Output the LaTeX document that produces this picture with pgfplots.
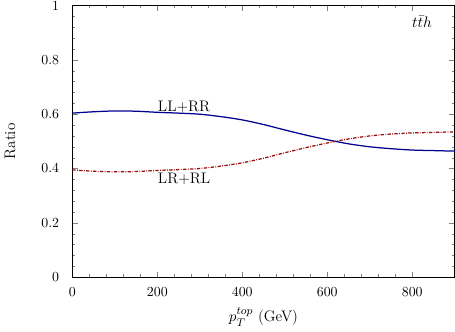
\documentclass[border=0pt]{standalone}
\usepackage{pgfplots}
\pgfplotsset{compat=1.18}
\definecolor{llrr}{RGB}{0,0,145}
\definecolor{lrrl}{RGB}{155,10,10}
\begin{document}
\begin{tikzpicture}
\begin{axis}[
  scale only axis,
  width=276pt, height=196pt,
  xmin=0, xmax=900, ymin=0, ymax=1,
  xtick={0,200,400,600,800},
  ytick={0,0.2,0.4,0.6,0.8,1},
  minor x tick num=4,
  minor y tick num=4,
  major tick length=4pt,
  minor tick length=2pt,
  tick align=inside,
  yticklabel style={xshift=-6pt, inner ysep=0.8pt},
  xticklabel style={yshift=-4pt},
  xlabel={$p_T^{top}$ (GeV)},
  ylabel={Ratio},
  label style={font=\fontsize{11}{13}\selectfont},
  every axis y label/.style={at={(axis description cs:-0.163,0.5)}, rotate=90, anchor=center, font=\fontsize{11}{13}\selectfont},
  every axis x label/.style={at={(axis description cs:0.5,0)}, anchor=north, yshift=-18.5pt, font=\fontsize{11}{13}\selectfont},
  every axis plot/.append style={line width=0.9pt},
]
\addplot[llrr, smooth] coordinates {
(0,0.604) (50,0.609) (100,0.612) (150,0.611) (200,0.607) (250,0.604)
(300,0.600) (350,0.591) (400,0.579) (450,0.562) (500,0.542) (550,0.523)
(600,0.506) (650,0.491) (700,0.480) (750,0.473) (800,0.468) (850,0.466) (900,0.464)
};
\addplot[lrrl, smooth, dash pattern=on 2.4pt off 1pt on 0.6pt off 1pt] coordinates {
(0,0.395) (50,0.390) (100,0.388) (150,0.389) (200,0.393) (250,0.396)
(300,0.400) (350,0.409) (400,0.421) (450,0.438) (500,0.458) (550,0.477)
(600,0.494) (650,0.509) (700,0.520) (750,0.527) (800,0.531) (850,0.533) (900,0.535)
};
\node[font=\fontsize{11}{13}\selectfont] at (axis cs:263,0.627) {LL+RR};
\node[font=\fontsize{11}{13}\selectfont] at (axis cs:263,0.361) {LR+RL};
\node[font=\fontsize{11}{13}\selectfont] at (axis cs:823,0.94) {$t\bar{t}h$};
\end{axis}
\end{tikzpicture}
\end{document}
